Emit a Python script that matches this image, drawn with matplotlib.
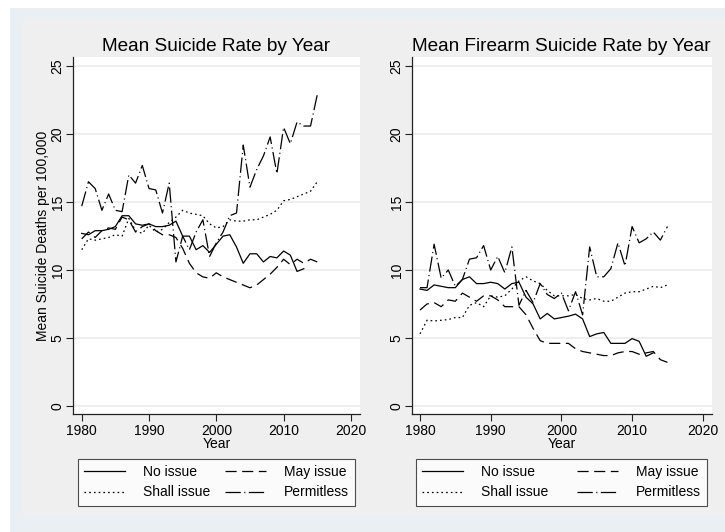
import numpy as np
import matplotlib
matplotlib.use('Agg')
import matplotlib.pyplot as plt
from matplotlib.patches import Rectangle

plt.rcParams['font.family'] = ['Liberation Sans', 'DejaVu Sans']
plt.rcParams['lines.scale_dashes'] = False

# ---- data: mean rates per 100,000 by law type ----
years = np.arange(1980, 2016)
nan = np.nan

suicide_no_issue = [12.7, 12.6, 12.9, 12.9, 13.0, 13.2, 14.0, 14.0, 13.4, 13.3,
                    13.4, 13.2, 13.2, 13.3, 13.6, 12.5, 12.5, 11.5, 11.8, 11.3,
                    11.9, 12.5, 12.6, 11.7, 10.5, 11.2, 11.2, 10.6, 11.0, 10.9,
                    11.4, 11.1, 9.9, 10.1, nan, nan]
suicide_may_issue = [12.3, 12.8, 12.4, 12.9, 13.1, 13.0, 13.9, 13.7, 12.8, 13.2,
                     13.4, 12.9, 12.6, 12.6, 12.4, 11.6, 10.5, 9.8, 9.5, 9.4,
                     9.8, 9.5, 9.3, 9.1, 8.9, 8.7, 8.9, 9.3, 9.7, 10.2,
                     10.8, 10.4, 10.8, 10.5, 10.8, 10.6]
suicide_shall_issue = [11.5, 12.3, 12.2, 12.3, 12.4, 12.6, 12.5, 13.8, 12.9, 12.7,
                       13.3, 12.8, 13.0, 13.5, 13.9, 14.4, 14.2, 14.1, 14.0, 13.4,
                       13.1, 13.2, 13.7, 13.6, 13.6, 13.7, 13.7, 13.9, 14.1, 14.4,
                       15.1, 15.2, 15.4, 15.6, 15.8, 16.5]
suicide_permitless = [14.7, 16.5, 16.0, 14.4, 15.6, 14.4, 14.3, 17.0, 16.4, 17.7,
                      16.0, 15.9, 14.2, 16.4, 10.6, 12.5, 11.5, 12.8, 13.7, 11.0,
                      12.0, 12.8, 14.0, 14.2, 19.2, 16.1, 17.4, 18.4, 19.8, 17.1,
                      20.5, 19.3, 20.9, 20.6, 20.6, 22.9]

firearm_no_issue = [8.6, 8.5, 8.9, 8.8, 8.7, 8.7, 9.3, 9.5, 9.0, 9.0,
                    9.1, 9.0, 8.6, 9.0, 9.1, 8.0, 7.5, 6.4, 6.8, 6.4,
                    6.5, 6.6, 6.75, 6.4, 5.1, 5.3, 5.4, 4.6, 4.6, 4.6,
                    4.95, 4.75, 3.65, 3.9, nan, nan]
firearm_may_issue = [7.05, 7.5, 7.6, 7.3, 7.8, 7.7, 8.3, 8.0, 7.7, 8.1,
                     8.1, 7.8, 7.3, 7.3, 7.3, 6.7, 5.7, 4.8, 4.6, 4.6,
                     4.6, 4.6, 4.2, 4.0, 3.9, 3.8, 3.7, 3.7, 3.9, 4.0,
                     4.0, 3.8, 3.9, 4.0, 3.4, 3.2]
firearm_shall_issue = [5.3, 6.3, 6.25, 6.3, 6.35, 6.5, 6.5, 7.4, 7.6, 7.3,
                       8.1, 8.0, 8.1, 8.6, 9.2, 9.5, 9.2, 9.0, 8.5, 8.1,
                       8.1, 8.1, 8.2, 7.9, 7.8, 7.9, 7.7, 7.7, 8.0, 8.3,
                       8.4, 8.4, 8.6, 8.8, 8.7, 8.9]
firearm_permitless = [8.7, 8.7, 11.9, 9.4, 10.0, 8.8, 9.3, 10.8, 10.9, 11.8,
                      10.0, 11.0, 9.8, 11.7, 7.4, 8.5, 7.6, 9.0, 8.2, 7.9,
                      8.3, 7.0, 8.4, 6.7, 11.7, 9.5, 9.5, 10.1, 12.0, 10.3,
                      13.2, 12.0, 12.3, 12.8, 12.2, 13.2]

labels = ['No issue', 'May issue', 'Shall issue', 'Permitless']
styles = ['-', (0, (8, 4)), (0, (1.2, 2.2)), (0, (11, 2.5, 0.8, 2.5))]

# ---- figure ----
W, H = 725, 532
fig = plt.figure(figsize=(W / 100, H / 100), dpi=100)
fig.patch.set_facecolor('white')
fig.patches.append(Rectangle((10 / W, 0), 1, 1 - 8 / H, transform=fig.transFigure,
                             facecolor='#e9eff2', edgecolor='none', zorder=-2))
fig.patches.append(Rectangle((22 / W, 1 - 515 / H), 1, (515 - 19) / H,
                             transform=fig.transFigure,
                             facecolor='#efefef', edgecolor='none', zorder=-1))


def panel(rect, series, title, xlim, ylim, leg_x, ylabel=None):
    ax = fig.add_axes(rect)
    ax.set_facecolor('white')
    for vals, ls in zip(series, styles):
        ax.plot(years, vals, color='black', lw=0.9, linestyle=ls)
    ax.set_xlim(*xlim)
    ax.set_ylim(*ylim)
    ax.set_xticks([1980, 1990, 2000, 2010, 2020])
    ax.set_yticks([0, 5, 10, 15, 20, 25])
    ax.grid(axis='y', color='#eaeaea', lw=1.1)
    ax.set_axisbelow(True)
    for s in ['top', 'right']:
        ax.spines[s].set_visible(False)
    for s in ['left', 'bottom']:
        ax.spines[s].set_color('#222222')
        ax.spines[s].set_linewidth(0.9)
    ax.tick_params(direction='out', length=5, width=0.8, color='#222222',
                   labelsize=10)
    ax.tick_params(axis='x', pad=2)
    ax.tick_params(axis='y', pad=0.8)
    for t in ax.get_yticklabels():
        t.set_rotation(90)
        t.set_va('center')
    ax.set_title(title, fontsize=13.7, pad=4.5)
    ax.set_xlabel('Year', fontsize=10)
    ax.xaxis.set_label_coords(0.5, -(444 - 414) / (414 - 57))
    ax.xaxis.label.set_va('center')
    if ylabel:
        ax.set_ylabel(ylabel, fontsize=10, va='center')
        ax.yaxis.set_label_coords(-(72.7 - 43) / (rect[2] * W), 0.5)

    handles = [plt.Line2D([], [], color='black', lw=0.9, linestyle=ls)
               for ls in styles]
    order = [0, 2, 1, 3]
    x0, x1 = leg_x
    leg = ax.legend([handles[i] for i in order], [labels[i] for i in order],
                    ncol=2, loc='upper left', mode='expand',
                    bbox_to_anchor=(x0 / W, 1 - 503 / H, (x1 - x0) / W, 44 / H),
                    bbox_transform=fig.transFigure,
                    fontsize=10, frameon=True, fancybox=False,
                    edgecolor='#222222', handlelength=2.9, handletextpad=1.3,
                    borderaxespad=0, borderpad=0.45, labelspacing=0.45)
    leg.get_frame().set_linewidth(0.8)
    return ax


ax1 = panel([72.7 / W, 1 - 414 / H, (360 - 72.7) / W, (414 - 57) / H],
            [suicide_no_issue, suicide_may_issue, suicide_shall_issue,
             suicide_permitless],
            'Mean Suicide Rate by Year', (1978.66, 2021.35), (-0.59, 25.68),
            (78, 355), ylabel='Mean Suicide Deaths per 100,000')

ax2 = panel([411.7 / W, 1 - 414 / H, (711.7 - 411.7) / W, (414 - 57) / H],
            [firearm_no_issue, firearm_may_issue, firearm_shall_issue,
             firearm_permitless],
            'Mean Firearm Suicide Rate by Year', (1978.83, 2021.26), (-0.6, 25.68),
            (416, 707))

fig.savefig('out.png', dpi=100, facecolor=fig.get_facecolor())
